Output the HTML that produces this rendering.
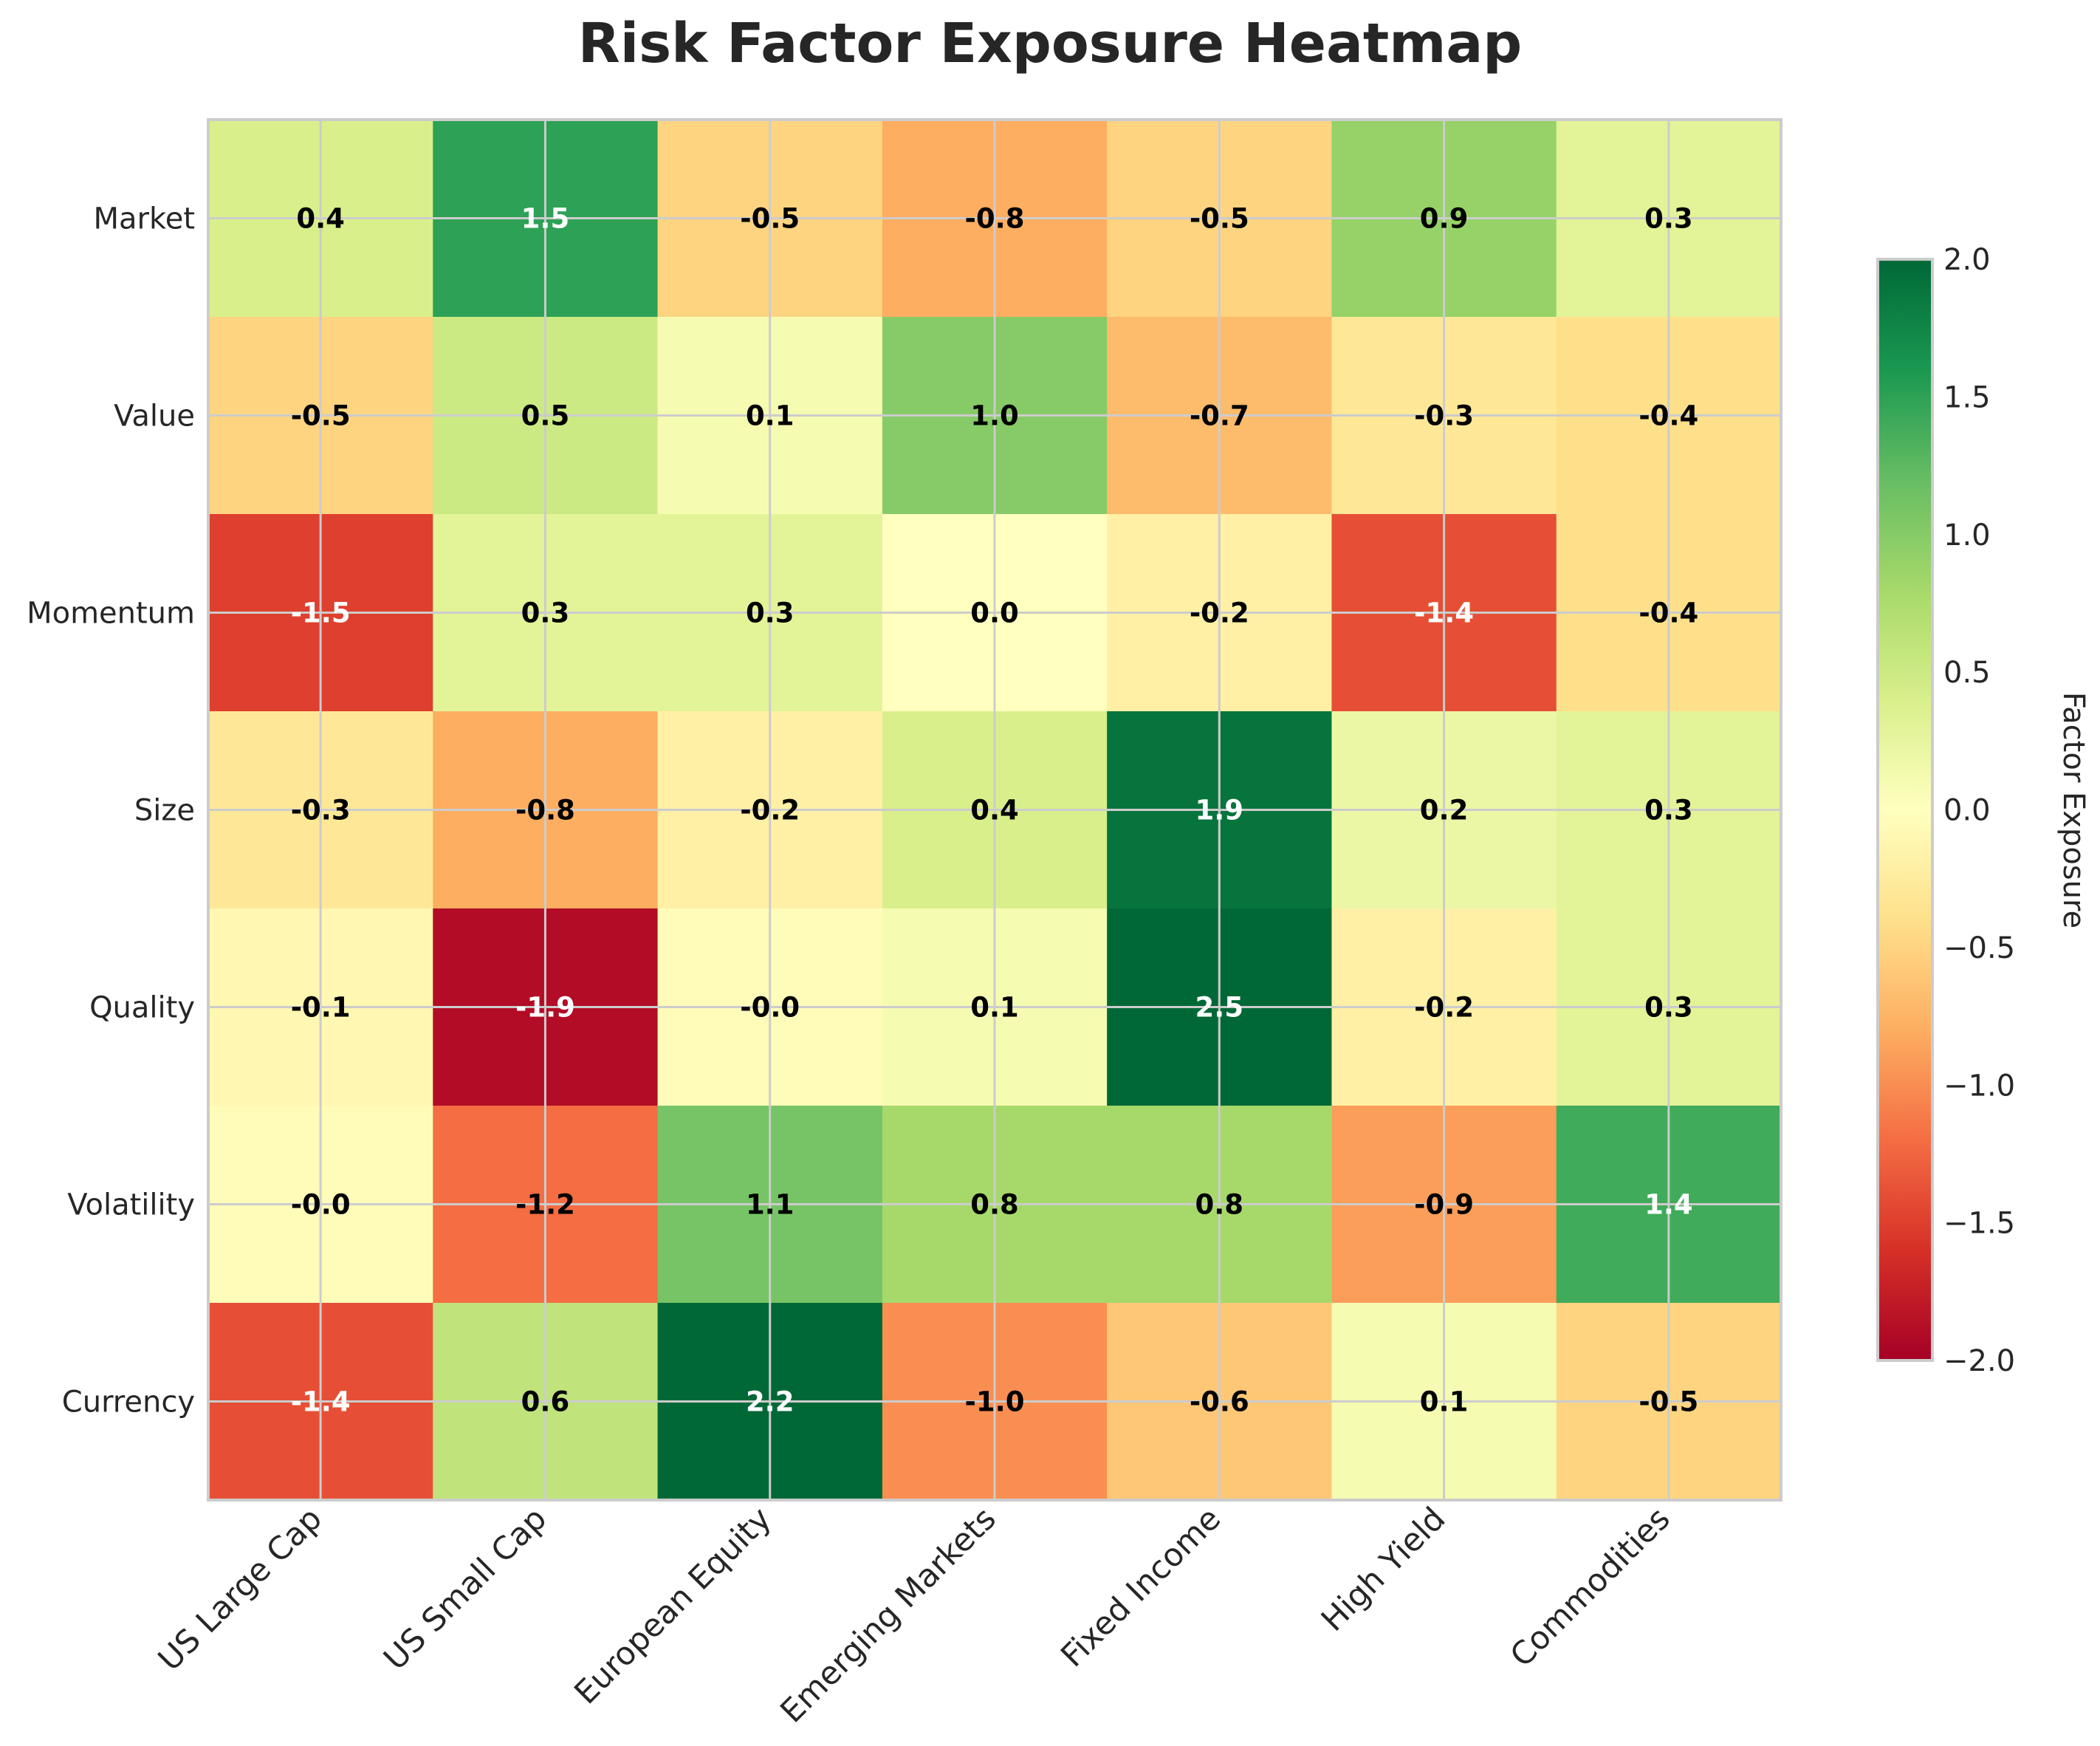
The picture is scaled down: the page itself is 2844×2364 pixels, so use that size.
<!DOCTYPE html>
<html><head><meta charset="utf-8"><style>
html,body{margin:0;padding:0;background:#fff;}
svg{display:block;font-family:"DejaVu Sans","Liberation Sans",sans-serif;}
</style></head><body>
<svg id="chart" width="2844" height="2364" viewBox="0 0 2844 2364" xmlns="http://www.w3.org/2000/svg">
<text x="1422" y="84" text-anchor="middle" font-size="74" font-weight="bold" fill="#262626">Risk Factor Exposure Heatmap</text>
<g id="cells"></g><g id="grid"></g><g id="vals"></g><g id="labels"></g>
<defs><linearGradient id="cbgrad" x1="0" y1="1" x2="0" y2="0"></linearGradient></defs>
<g id="cbar"></g>
<text transform="translate(2795,1097) rotate(90)" text-anchor="middle" font-size="40" fill="#262626">Factor Exposure</text>
</svg>
<script>
const assets = ["US Large Cap","US Small Cap","European Equity","Emerging Markets","Fixed Income","High Yield","Commodities"];
const factors = ["Market","Value","Momentum","Size","Quality","Volatility","Currency"];
const rowMarket = [0.4,1.5,-0.5,-0.8,-0.5,0.9,0.3];
const rowValue = [-0.5,0.5,0.1,1.0,-0.7,-0.3,-0.4];
const rowMomentum = [-1.5,0.3,0.3,0.0,-0.2,-1.4,-0.4];
const rowSize = [-0.3,-0.8,-0.2,0.4,1.9,0.2,0.3];
const rowQuality = [-0.1,-1.9,-0.04,0.1,2.5,-0.2,0.3];
const rowVolatility = [-0.04,-1.2,1.1,0.8,0.8,-0.9,1.4];
const rowCurrency = [-1.4,0.6,2.2,-1.0,-0.6,0.1,-0.5];
const values = [rowMarket,rowValue,rowMomentum,rowSize,rowQuality,rowVolatility,rowCurrency];
const cbTicks = [-2.0,-1.5,-1.0,-0.5,0.0,0.5,1.0,1.5,2.0];
const vmin=-2, vmax=2;

const NS="http://www.w3.org/2000/svg";
const L=282,R=2412,T=162,B=2031;
const cw=(R-L)/assets.length, ch=(B-T)/factors.length;
const xs=i=>L+i*cw, ys=j=>T+j*ch;
const stops=["#a50026","#d73027","#f46d43","#fdae61","#fee08b","#ffffbf","#d9ef8b","#a6d96a","#66bd63","#1a9850","#006837"];
function hex(h){return [1,3,5].map(k=>parseInt(h.substr(k,2),16));}
function cmap(v){let t=(Math.min(vmax,Math.max(vmin,v))-vmin)/(vmax-vmin);let p=t*10,i=Math.min(9,Math.floor(p)),f=p-i;
 const a=hex(stops[i]),b=hex(stops[i+1]);return "rgb("+a.map((x,k)=>Math.round(x+(b[k]-x)*f)).join(",")+")";}
function mk(tag,attrs,parent,txt){const e=document.createElementNS(NS,tag);for(const k in attrs)e.setAttribute(k,attrs[k]);if(txt!==undefined)e.textContent=txt;parent.appendChild(e);return e;}
const cells=document.getElementById('cells'),grid=document.getElementById('grid'),vals=document.getElementById('vals'),labels=document.getElementById('labels');
values.forEach((row,j)=>row.forEach((v,i)=>{
 const r=mk('rect',{x:xs(i),y:ys(j),width:cw+0.5,height:ch+0.5,fill:cmap(v)},cells);
 
 
 const t=mk('text',{x:xs(i)+cw/2,y:ys(j)+ch/2+13,'text-anchor':'middle','font-size':37,'font-weight':'bold',fill:Math.abs(v)>1.25?'#fff':'#000'},vals,v.toFixed(1));
 
 
}));
for(let i=0;i<assets.length;i++){const g=mk('line',{x1:xs(i)+cw/2,x2:xs(i)+cw/2,y1:T,y2:B,stroke:'#cccccc','stroke-width':3},grid);
 
 
 const t=mk('text',{transform:`translate(${xs(i)+cw/2+4},${B+28}) rotate(-45)`,'text-anchor':'end','font-size':43,fill:'#262626'},labels,assets[i]);
 
 }
for(let j=0;j<factors.length;j++){const g=mk('line',{x1:L,x2:R,y1:ys(j)+ch/2,y2:ys(j)+ch/2,stroke:'#cccccc','stroke-width':3},grid);
 
 
 const t=mk('text',{x:264,y:ys(j)+ch/2+14,'text-anchor':'end','font-size':40,fill:'#262626'},labels,factors[j]);
 
 }
const fr=mk('rect',{x:L,y:T,width:R-L,height:B-T,fill:'none',stroke:'#cccccc','stroke-width':4},grid);


const grad=document.getElementById('cbgrad');
stops.forEach((c,k)=>mk('stop',{offset:(k/10),'stop-color':c},grad));
const cb=document.getElementById('cbar');
const CL=2543,CR=2617,CT=351,CB=1842;
const cy=v=>CB-(v-vmin)/(vmax-vmin)*(CB-CT);
const cr=mk('rect',{x:CL,y:CT,width:CR-CL,height:CB-CT,fill:'url(#cbgrad)',stroke:'#cccccc','stroke-width':4},cb);


cbTicks.forEach(v=>{const t=mk('text',{x:2632,y:cy(v)+14,'font-size':40,fill:'#262626'},cb,(v<0?'\u2212':'')+Math.abs(v).toFixed(1));
 
 });
</script>
</body></html>
